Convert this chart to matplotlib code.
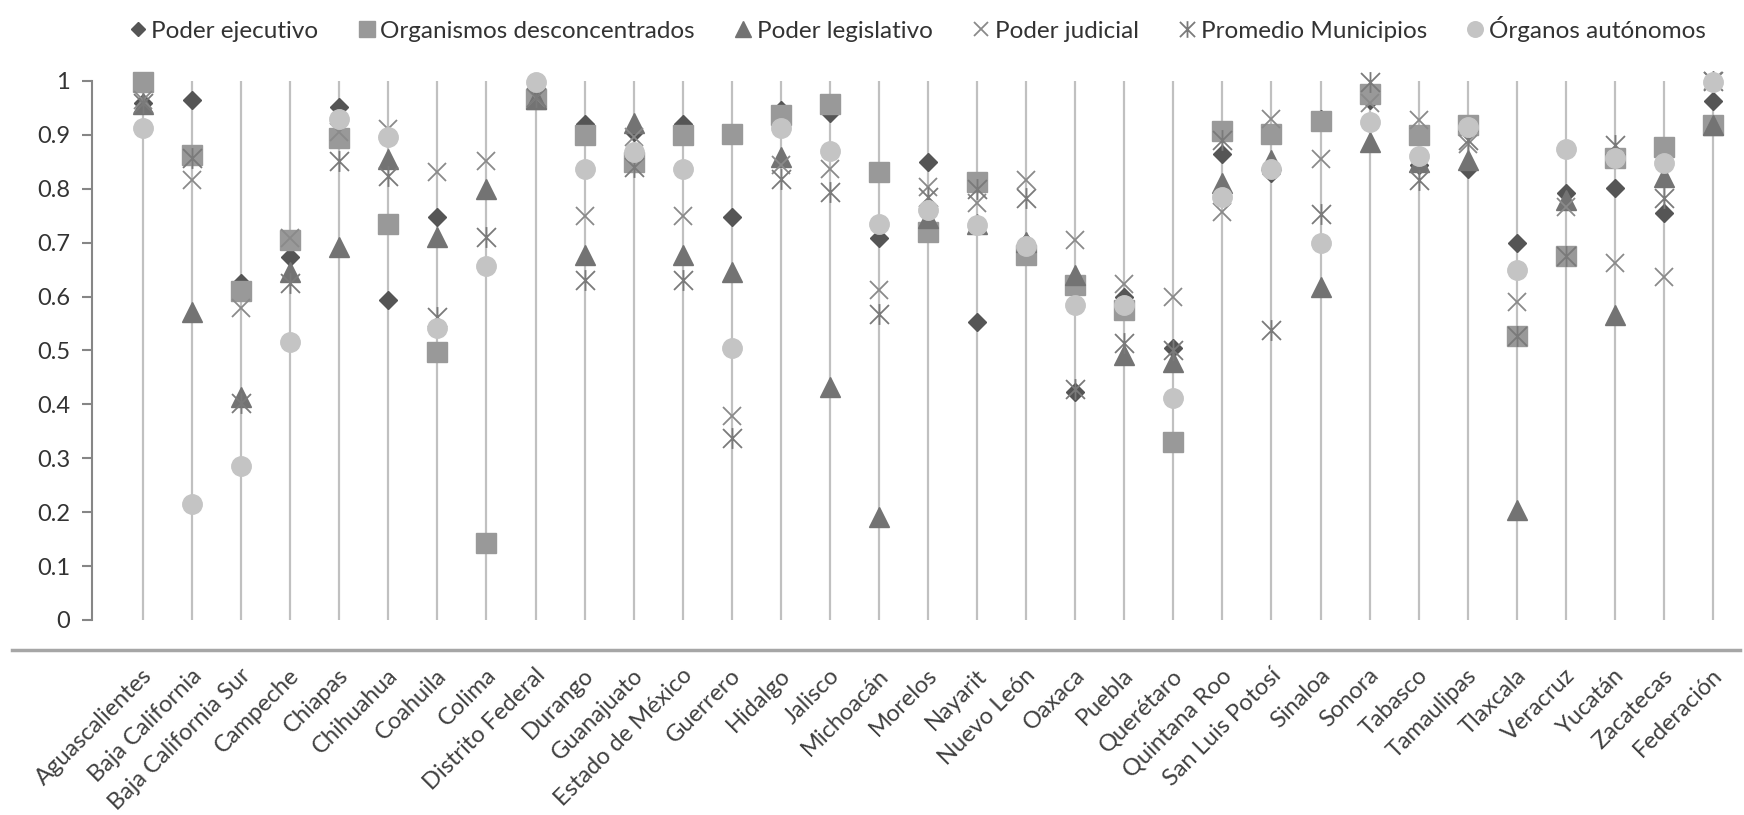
import numpy as np
import matplotlib
matplotlib.use('Agg')
import matplotlib.pyplot as plt
from matplotlib.path import Path
from matplotlib.transforms import ScaledTranslation

plt.rcParams['font.family'] = ['Lato', 'DejaVu Sans']

nan = np.nan

estados = ['Aguascalientes', 'Baja California', 'Baja California Sur', 'Campeche',
           'Chiapas', 'Chihuahua', 'Coahuila', 'Colima', 'Distrito Federal',
           'Durango', 'Guanajuato', 'Estado de México', 'Guerrero', 'Hidalgo',
           'Jalisco', 'Michoacán', 'Morelos', 'Nayarit', 'Nuevo León', 'Oaxaca',
           'Puebla', 'Querétaro', 'Quintana Roo', 'San Luis Potosí', 'Sinaloa',
           'Sonora', 'Tabasco', 'Tamaulipas', 'Tlaxcala', 'Veracruz', 'Yucatán',
           'Zacatecas', 'Federación']

poder_ejecutivo = [0.96, 0.965, 0.625, 0.674, 0.952, 0.593, 0.748, nan, 0.968,
                   0.921, 0.905, 0.921, 0.747, 0.946, 0.94, 0.708, 0.85, 0.553,
                   0.70, 0.423, 0.60, 0.504, 0.865, 0.83, 0.93, 0.965, 0.845,
                   0.837, 0.70, 0.792, 0.802, 0.755, 0.962]
organismos_desconcentrados = [0.998, 0.862, 0.61, 0.705, 0.895, 0.734, 0.497, 0.143,
                              0.967, 0.899, 0.85, 0.899, 0.901, 0.936, 0.958, 0.831,
                              0.72, 0.813, 0.677, 0.622, 0.575, 0.331, 0.907, 0.902,
                              0.926, 0.975, 0.899, 0.918, 0.527, 0.675, 0.858, 0.877,
                              0.918]
poder_legislativo = [0.958, 0.572, 0.414, 0.646, 0.692, 0.856, 0.711, 0.80, 0.966,
                     0.677, 0.922, 0.677, 0.646, 0.859, 0.432, 0.191, 0.745, 0.735,
                     0.702, 0.64, 0.491, 0.479, 0.81, 0.853, 0.617, 0.887, 0.85,
                     0.853, 0.204, 0.78, 0.566, 0.822, 0.918]
poder_judicial = [0.965, 0.816, 0.578, 0.708, 0.905, 0.911, 0.831, 0.851, 0.968,
                  0.75, 0.897, 0.75, 0.379, 0.844, 0.837, 0.612, 0.804, 0.773,
                  0.816, 0.705, 0.624, 0.60, 0.757, 0.93, 0.856, 0.96, 0.927,
                  0.884, 0.59, 0.767, 0.662, 0.637, 1.0]
promedio_municipios = [0.96, 0.858, 0.402, 0.626, 0.852, 0.824, 0.562, 0.711, 0.97,
                       0.63, 0.84, 0.63, 0.337, 0.819, 0.794, 0.568, 0.785, 0.80,
                       0.782, 0.428, 0.513, 0.50, 0.89, 0.538, 0.753, 0.998, 0.816,
                       0.89, 0.527, 0.675, 0.881, 0.782, 1.0]
organos_autonomos = [0.913, 0.215, 0.286, 0.515, 0.93, 0.897, 0.541, 0.656, 0.998,
                     0.836, 0.868, 0.836, 0.505, 0.912, 0.871, 0.735, 0.761, 0.733,
                     0.693, 0.584, 0.584, 0.411, 0.785, 0.836, 0.70, 0.924, 0.86,
                     0.915, 0.649, 0.873, 0.858, 0.847, 0.999]

# asterisco tipo Excel: X con trazo vertical
asterisco = Path([(-1, -1), (1, 1), (-1, 1), (1, -1), (0, -1.1), (0, 1.1)],
                 [Path.MOVETO, Path.LINETO] * 3)

series = [
    ('Poder ejecutivo', poder_ejecutivo, dict(marker='D', ms=9.5, color='#555555')),
    ('Organismos desconcentrados', organismos_desconcentrados, dict(marker='s', ms=15, color='#999999')),
    ('Poder legislativo', poder_legislativo, dict(marker='^', ms=14, color='#737373')),
    ('Poder judicial', poder_judicial, dict(marker='x', ms=13, mew=1.3, color='#8a8a8a')),
    ('Promedio Municipios', promedio_municipios, dict(marker=asterisco, ms=15, mew=1.3, color='#7a7a7a', mfc='none')),
    ('Órganos autónomos', organos_autonomos, dict(marker='o', ms=14, color='#c4c4c4')),
]

fig = plt.figure(figsize=(17.44, 8.15), dpi=100)
ax = fig.add_axes([12 / 1744, 1 - 650 / 815, 1728 / 1744, 580 / 815])

x = np.arange(len(estados))
ax.vlines(x, 0, 1, color='#c0c0c0', lw=1.6, zorder=1)

for i, (nombre, valores, estilo) in enumerate(series):
    ax.plot(x, valores, linestyle='none', label=nombre, zorder=3 + i,
            clip_on=False, **estilo)

ax.set_xlim(-2.67, 32.55)
ax.set_ylim(-0.0557, 1.0204)

for s in ['top', 'right']:
    ax.spines[s].set_visible(False)
ax.spines['left'].set_position(('data', -1.03))
ax.spines['left'].set_bounds(0, 1)
ax.spines['left'].set_color('#868686')
ax.spines['left'].set_linewidth(1.5)
ax.spines['bottom'].set_color('#a6a6a6')
ax.spines['bottom'].set_linewidth(2.5)

yt = [round(v, 1) for v in np.arange(0, 1.01, 0.1)]
ax.set_yticks(yt)
ax.set_yticklabels(['{:g}'.format(v) for v in yt])
ax.tick_params(axis='y', direction='out', length=7, width=1.5, color='#868686',
               labelsize=17, labelcolor='#333333', pad=9)

ax.set_xticks(x)
ax.set_xticklabels(estados, rotation=45, ha='right', va='center',
                   rotation_mode='anchor')
ax.tick_params(axis='x', length=0, labelsize=17, labelcolor='#404040', pad=16)
offset = ScaledTranslation(0.06, 0, fig.dpi_scale_trans)
for lbl in ax.get_xticklabels():
    lbl.set_transform(lbl.get_transform() + offset)

fig.legend(loc='center', bbox_to_anchor=(0.525, 1 - 29 / 815), ncol=6,
           frameon=False, fontsize=17.5, handletextpad=0.05, columnspacing=1.5,
           markerscale=0.8, labelcolor='#333333', handlelength=1.0)

plt.savefig('out.png', dpi=100)
